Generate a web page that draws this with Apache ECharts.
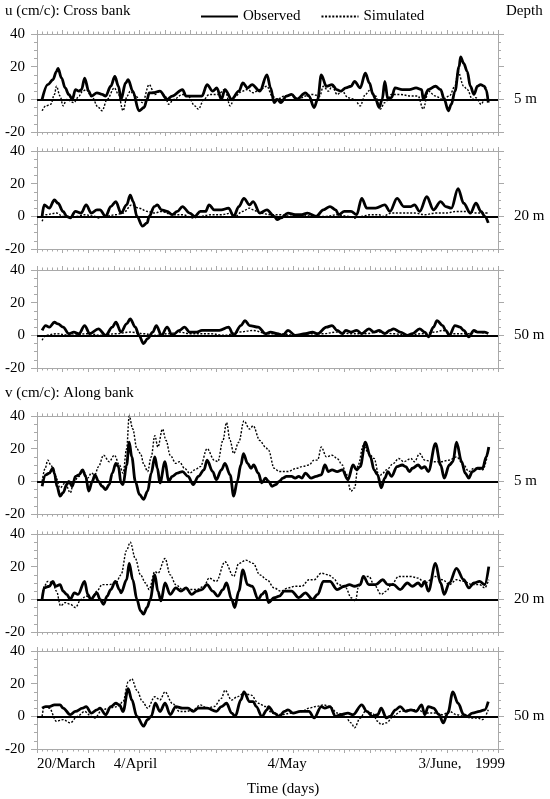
<!DOCTYPE html>
<html>
<head>
<meta charset="utf-8">
<script src="https://cdn.jsdelivr.net/npm/echarts@6/dist/echarts.min.js"></script>
<style>
  html, body { margin: 0; background: #fff; }
  #chart { width: 550px; height: 799px; }
</style>
</head>
<body>
<div id="chart"></div>
<script>
// days counted from 20/March (left edge of the axis)
var uObs5 = [[1.0,0],[2.1,9],[3.1,12],[3.8,17],[4.1,19],[4.8,13],[5.5,7],[6.2,3],[6.9,0],[7.5,6],[8.2,5],[8.7,6],[9.3,13],[10.1,5],[10.6,2],[11.7,4],[12.7,3],[13.4,2],[14.4,8],[15.2,14],[15.9,8],[16.4,0],[17.3,10],[17.8,12],[18.7,5],[19.9,-7],[20.9,-5],[21.5,0],[21.9,4],[22.6,4],[24.0,5],[25.4,0],[26.4,2],[28.4,6],[29.1,2],[30.8,2],[32.2,2],[33.2,9],[34.3,5],[35.1,7],[36.0,0],[36.7,6],[38.0,0],[39.4,5],[40.2,10],[41.1,7],[42.0,9],[43.5,5],[44.9,15],[45.6,7],[46.3,-2],[46.9,0],[47.6,-2],[48.7,2],[49.7,3],[50.7,0],[52.4,4],[53.1,2],[54.1,-5],[54.8,0],[55.5,15],[56.5,8],[57.6,9],[58.5,6],[59.3,5],[60.3,7],[61.3,8],[62.0,11],[63.1,7],[64.1,16],[64.9,10],[65.6,3],[66.1,0],[66.8,-5],[67.4,0],[67.9,11],[68.5,0],[69.2,1],[69.9,7],[71.3,6],[72.7,6],[74.0,7],[75.1,6],[75.4,0],[76.4,6],[77.8,8],[78.8,6],[79.5,0],[80.3,-7],[80.9,-3],[81.6,5],[82.4,20],[82.7,26],[83.3,22],[84.0,17],[84.6,8],[85.3,3],[86.0,8],[86.6,9],[87.3,8],[87.7,6],[88.1,-2]];
var uSim5 = [[1.0,-7],[1.7,-4],[2.7,-3],[3.4,3],[3.8,8],[4.5,2],[5.1,-4],[5.8,0],[7.2,-2],[8.2,2],[8.9,5],[9.6,6],[10.6,2],[12.0,-5],[12.7,-7],[13.7,0],[15.1,7],[15.9,3],[16.8,-7],[17.6,2],[18.2,5],[19.2,2],[20.6,-2],[21.9,9],[23.0,3],[24.0,5],[25.0,2],[25.7,-3],[26.7,0],[28.4,3],[29.5,2],[30.8,-4],[31.5,-6],[32.6,0],[33.6,3],[35.3,3],[36.7,6],[37.7,-4],[38.7,2],[40.1,5],[41.1,6],[42.2,4],[43.5,6],[44.9,8],[45.9,2],[46.9,0],[48.3,2],[49.7,3],[51.1,0],[52.4,2],[53.8,3],[55.2,2],[55.9,8],[56.9,5],[57.6,8],[58.6,3],[59.6,5],[60.7,1],[62.0,0],[63.1,-4],[64.1,3],[65.1,6],[66.1,2],[67.0,-6],[67.9,-2],[69.2,3],[70.9,3],[73.0,2],[74.4,2],[75.4,-6],[76.4,5],[77.8,2],[79.2,0],[80.5,2],[81.6,8],[82.2,17],[83.3,8],[84.0,6],[85.0,0],[85.7,1],[86.7,-3],[87.4,0],[88.1,0]];
var uObs20 = [[1.0,0],[1.4,7],[2.4,5],[3.4,10],[4.1,8],[5.1,3],[5.8,0],[6.5,-1],[7.5,3],[8.6,2],[9.6,7],[10.6,2],[11.7,4],[12.3,4],[13.4,0],[14.4,6],[15.4,9],[16.4,2],[17.5,7],[18.2,13],[18.8,9],[19.5,0],[20.6,-6],[21.5,-4],[21.9,0],[22.9,6],[23.5,7],[24.3,4],[25.4,3],[26.4,1],[27.4,3],[28.4,6],[29.8,2],[30.8,0],[31.9,3],[32.9,3],[33.6,7],[34.6,4],[36.0,4],[37.4,5],[38.4,0],[39.4,6],[40.4,11],[41.5,7],[42.2,9],[43.5,2],[44.9,4],[46.3,0],[46.9,-2],[47.6,-1],[49.0,2],[50.4,1],[51.7,1],[52.8,2],[54.5,0],[55.9,4],[57.2,6],[58.3,4],[58.9,1],[60.0,3],[61.3,3],[62.4,1],[63.4,11],[64.4,5],[66.1,5],[67.9,7],[68.9,3],[70.3,11],[71.6,6],[73.0,6],[73.7,7],[74.7,3],[76.1,12],[77.4,4],[78.8,9],[79.8,6],[80.9,5],[82.2,17],[83.3,8],[84.6,2],[85.7,8],[86.7,3],[87.4,0],[88.1,-4]];
var uSim20 = [[1.0,-3],[1.7,1],[3.8,2],[5.1,0],[6.5,-1],[7.9,0],[9.3,1],[11.3,0],[12.0,-1],[13.4,0],[15.4,1],[16.8,2],[18.5,7],[19.9,5],[21.6,3],[23.0,2],[24.3,3],[26.4,1],[28.4,1],[30.5,-1],[31.9,0],[33.9,1],[36.0,1],[38.0,2],[38.7,0],[40.1,3],[41.5,5],[42.2,4],[43.5,2],[45.6,1],[47.6,1],[49.7,0],[51.7,1],[53.8,0],[56.5,0],[58.6,1],[60.7,0],[62.0,-1],[63.4,0],[65.1,1],[66.8,1],[67.5,0],[69.2,2],[70.9,2],[73.7,2],[75.7,1],[77.8,2],[79.8,2],[81.9,3],[84.0,3],[86.0,2],[87.4,2],[88.1,2]];
var uObs50 = [[1.0,3],[1.7,6],[2.4,5],[3.4,8],[4.1,7],[5.1,5],[6.2,1],[7.2,2],[8.2,1],[9.3,6],[10.3,1],[12.0,4],[13.4,0],[14.7,5],[15.4,8],[16.4,2],[17.5,7],[18.2,10],[19.2,5],[19.9,0],[20.8,-5],[21.6,-2],[22.6,2],[23.3,6],[24.3,0],[25.4,5],[26.4,0],[27.8,3],[28.8,5],[29.8,2],[31.2,2],[32.2,3],[33.9,3],[35.6,3],[37.4,5],[38.4,0],[39.8,6],[40.6,9],[41.5,6],[43.2,5],[44.6,1],[45.6,2],[46.9,1],[48.0,0],[49.0,3],[50.4,0],[52.4,1],[53.8,2],[54.8,1],[56.5,5],[57.6,6],[58.6,3],[59.6,1],[60.3,3],[61.3,2],[62.4,3],[63.4,1],[64.8,4],[65.8,2],[66.8,3],[67.9,1],[68.9,3],[69.6,4],[70.9,2],[72.3,0],[73.3,1],[74.7,4],[75.7,2],[76.4,-1],[77.4,5],[78.1,9],[79.2,6],[79.8,3],[80.5,0],[81.6,6],[82.6,5],[83.3,3],[84.3,-1],[85.3,3],[86.0,2],[87.4,2],[88.1,1]];
var uSim50 = [[1.0,-3],[1.7,0],[3.8,1],[6.5,0],[9.9,1],[12.7,0],[15.4,1],[18.2,2],[20.9,1],[23.0,0],[25.7,1],[27.8,2],[29.8,1],[33.9,1],[36.7,0],[39.4,2],[42.2,3],[44.9,1],[47.6,1],[50.4,0],[53.1,1],[55.9,1],[58.6,2],[61.3,1],[64.1,1],[66.8,2],[69.6,1],[72.3,0],[75.1,1],[77.8,2],[79.2,3],[81.2,1],[84.0,1],[86.0,2],[88.1,1]];
var vObs5 = [[1.0,-3],[1.7,4],[2.4,5],[3.1,8],[3.4,5],[3.9,-3],[4.5,-9],[5.1,-7],[5.8,-2],[6.2,0],[6.9,-3],[7.5,3],[8.2,4],[8.9,7],[9.5,3],[10.1,-6],[10.8,0],[11.3,4],[12.0,0],[12.7,-3],[13.4,-5],[14.1,-2],[14.7,5],[15.4,11],[15.9,9],[16.4,-1],[16.8,-2],[17.5,10],[18.0,24],[18.5,15],[19.2,0],[20.0,-8],[20.8,-11],[21.6,-6],[22.3,5],[23.0,15],[23.5,8],[24.0,-1],[25.0,12],[25.7,0],[26.4,3],[27.4,5],[28.4,6],[29.5,3],[30.5,-2],[31.5,3],[32.6,7],[33.2,13],[34.3,6],[35.0,1],[36.0,7],[36.7,11],[37.7,4],[38.4,-9],[39.1,0],[39.8,10],[40.3,17],[41.1,11],[41.8,8],[42.3,10],[43.2,5],[43.9,-1],[44.6,2],[45.2,0],[45.9,-3],[46.6,-2],[47.3,0],[48.0,2],[48.7,3],[49.7,3],[50.4,2],[51.1,3],[51.7,2],[52.4,5],[53.5,2],[54.5,3],[55.5,4],[56.2,10],[56.9,6],[57.6,7],[58.6,6],[59.6,7],[60.7,1],[61.7,10],[62.4,7],[63.1,9],[64.1,24],[65.1,15],[65.8,7],[66.5,4],[67.2,-4],[67.9,2],[68.5,6],[69.2,3],[70.3,9],[71.3,10],[72.0,9],[72.7,6],[73.3,8],[74.4,10],[75.1,8],[75.7,9],[76.4,6],[77.8,23],[78.8,10],[79.5,2],[80.5,10],[81.2,12],[81.9,24],[82.9,12],[83.6,5],[84.3,2],[85.0,6],[86.0,8],[87.0,8],[87.7,15],[88.2,21]];
var vSim5 = [[1.0,0],[1.6,8],[2.1,13],[2.7,10],[3.6,3],[4.5,-4],[5.5,-1],[6.5,-7],[7.2,0],[8.2,3],[8.9,7],[9.9,2],[10.6,5],[11.3,4],[12.0,9],[13.0,16],[14.1,12],[15.1,16],[16.1,10],[16.8,5],[17.5,20],[18.0,40],[18.7,32],[19.5,20],[20.2,17],[20.9,10],[21.6,6],[22.3,15],[23.0,28],[23.6,21],[24.5,32],[25.2,25],[26.0,16],[27.1,11],[27.8,12],[28.8,8],[29.8,5],[30.8,7],[31.9,9],[33.2,20],[34.6,13],[35.3,12],[36.3,25],[37.0,36],[37.7,25],[38.4,17],[39.4,24],[40.4,37],[41.5,32],[42.2,34],[43.5,25],[44.6,21],[45.2,19],[46.3,8],[47.3,6],[49.0,6],[50.7,8],[51.7,9],[53.1,10],[54.1,13],[54.8,13],[55.5,21],[56.5,15],[57.6,16],[58.6,14],[59.6,10],[60.3,5],[61.3,-6],[62.0,-4],[62.7,10],[63.7,22],[64.8,17],[65.8,14],[66.8,3],[67.5,5],[68.2,7],[69.6,11],[70.6,14],[71.6,12],[73.0,14],[73.7,12],[74.7,17],[75.7,13],[77.1,12],[78.8,12],[80.5,13],[81.9,15],[83.3,10],[84.3,6],[85.3,8],[87.0,7],[88.2,20]];
var vObs20 = [[1.0,0],[1.4,7],[2.4,8],[3.1,11],[3.6,8],[4.5,9],[5.1,5],[5.8,3],[6.5,0],[7.3,4],[8.0,3],[9.3,11],[9.9,3],[10.5,0],[11.7,4],[12.3,0],[13.0,-3],[13.7,2],[14.4,6],[15.3,11],[16.1,6],[16.4,4],[17.5,12],[18.0,22],[18.7,12],[19.5,0],[20.2,-7],[20.8,-9],[21.5,-5],[22.1,0],[23.0,15],[23.6,5],[24.2,-1],[25.0,10],[26.0,3],[27.1,7],[28.1,5],[29.1,7],[30.2,3],[31.2,5],[32.2,6],[33.2,9],[34.3,5],[35.3,2],[36.3,6],[37.0,10],[38.0,0],[38.6,-5],[39.4,5],[40.2,18],[41.1,9],[42.0,8],[43.2,0],[43.9,3],[44.6,5],[45.2,-2],[46.3,1],[47.3,2],[48.3,5],[49.7,5],[51.1,1],[52.4,4],[53.8,0],[54.8,3],[55.9,11],[57.2,11],[58.6,6],[60.0,8],[61.0,9],[62.0,8],[63.1,9],[63.7,14],[64.8,9],[66.1,9],[67.5,12],[68.5,9],[69.6,9],[70.9,6],[72.3,10],[73.3,8],[74.4,10],[75.1,8],[75.7,11],[76.4,5],[77.8,22],[78.8,10],[79.5,3],[80.5,10],[81.9,19],[83.3,12],[84.3,7],[85.3,10],[86.4,11],[87.4,9],[88.2,20]];
var vSim20 = [[1.0,0],[1.4,8],[2.1,11],[3.1,10],[3.8,5],[4.6,-4],[5.5,-2],[6.5,-3],[7.5,-5],[8.6,0],[9.6,2],[10.6,0],[11.7,5],[12.7,9],[14.1,9],[15.4,10],[16.4,15],[17.5,30],[18.2,35],[19.2,25],[20.2,15],[21.2,10],[21.9,6],[23.0,17],[23.6,16],[25.0,25],[26.0,15],[27.1,9],[28.4,6],[29.8,6],[31.2,6],[32.6,8],[33.6,13],[35.0,11],[36.7,23],[38.4,14],[39.4,22],[40.8,24],[42.2,22],[43.5,15],[44.9,12],[46.3,7],[47.6,5],[49.0,7],[50.4,8],[51.7,8],[53.1,12],[54.1,12],[55.5,16],[56.9,15],[57.9,13],[58.9,9],[60.3,7],[61.3,1],[62.2,-1],[62.7,7],[63.7,14],[64.8,14],[65.8,9],[67.2,3],[68.2,5],[69.2,9],[70.6,14],[73.0,14],[74.4,13],[75.7,10],[77.8,14],[79.2,12],[80.5,9],[81.9,12],[83.3,11],[85.0,9],[86.4,9],[87.4,7],[88.2,12]];
var vObs50 = [[1.0,5],[1.7,6],[2.4,6],[3.4,7],[4.5,7],[5.1,5],[6.5,1],[7.5,3],[8.9,5],[9.6,6],[10.6,2],[11.7,4],[12.3,5],[13.4,1],[14.4,6],[15.4,8],[16.1,7],[16.8,3],[17.8,17],[18.5,10],[19.5,0],[20.8,-6],[21.6,-2],[22.3,0],[23.1,8],[24.0,3],[25.0,8],[26.0,1],[27.1,6],[28.4,5],[29.5,5],[30.5,3],[31.5,5],[33.2,5],[35.0,3],[36.0,6],[37.0,8],[38.0,2],[38.7,0],[39.8,10],[40.4,15],[41.5,9],[42.2,9],[42.8,6],[43.9,0],[44.9,4],[45.2,6],[46.3,2],[47.3,0],[48.3,3],[49.0,4],[50.0,2],[51.4,3],[53.1,3],[54.1,-1],[55.5,6],[56.2,5],[57.2,6],[58.3,0],[59.3,1],[60.7,2],[61.7,1],[63.4,7],[64.4,3],[65.5,0],[66.5,1],[67.2,5],[68.2,-1],[68.9,0],[70.0,4],[70.9,6],[72.0,3],[73.0,4],[74.0,3],[75.1,7],[75.7,1],[76.4,6],[77.4,5],[78.5,1],[79.3,-4],[80.2,2],[81.2,15],[82.2,8],[83.3,1],[84.0,0],[85.0,2],[86.4,3],[87.4,4],[88.1,9]];
var vSim50 = [[1.0,0],[1.4,6],[2.4,5],[3.8,-3],[5.1,-2],[6.5,-4],[7.9,0],[9.3,3],[10.6,0],[11.3,-1],[12.7,4],[14.1,5],[15.8,6],[16.8,9],[17.8,21],[18.5,23],[19.5,16],[20.6,9],[21.6,5],[23.0,12],[24.0,10],[25.0,15],[26.4,8],[27.8,3],[29.1,3],[30.5,4],[31.9,7],[33.2,5],[34.6,6],[36.0,11],[36.7,16],[38.0,10],[39.1,12],[40.4,14],[41.8,13],[43.2,8],[44.6,6],[45.9,2],[47.6,1],[49.7,2],[51.7,3],[53.1,5],[54.5,6],[55.9,7],[57.2,6],[58.6,2],[60.0,1],[61.3,-4],[62.0,-7],[63.1,-1],[64.1,3],[65.5,2],[66.5,-3],[67.2,-5],[68.2,-4],[69.6,0],[70.9,3],[72.7,4],[74.4,4],[75.7,2],[77.8,2],[79.2,1],[80.5,3],[81.9,1],[83.3,0],[84.6,-1],[86.0,-1],[87.0,-2],[88.1,4]];

var depthLabels = ["5 m", "20 m", "50 m", "5 m", "20 m", "50 m"];
var xLabelDays = [0, 15, 45, 74.5, 85.5];
var xLabelText = ["20/March", "4/April", "4/May", "3/June,", "1999"];

var panels = [
  [uObs5, uSim5], [uObs20, uSim20], [uObs50, uSim50],
  [vObs5, vSim5], [vObs20, vSim20], [vObs50, vSim50]
];
var panelTops = [34, 151, 270, 416, 534, 651];

var font = "'Liberation Serif', 'DejaVu Serif', serif";
var grey = "#a9a9a9";

var chart = echarts.init(document.getElementById("chart"));

var grids = [], xAxes = [], yAxes = [], series = [];

panels.forEach(function (p, i) {
  var last = i === panels.length - 1;
  grids.push({ left: 37, right: 52, top: panelTops[i], height: 98 });

  // bottom and top time axes
  ["bottom", "top"].forEach(function (pos) {
    var lab = { show: false };
    if (last && pos === "bottom") {
      lab = {
        show: true,
        customValues: xLabelDays,
        align: "left",
        margin: 8,
        color: "#000",
        fontFamily: font,
        fontSize: 15,
        formatter: function (v) {
          var k = xLabelDays.indexOf(v);
          return k < 0 ? "" : xLabelText[k];
        }
      };
    }
    xAxes.push({
      type: "value", gridIndex: i, position: pos,
      min: 0, max: 90, interval: 5,
      axisLine: { show: true, onZero: false, lineStyle: { color: grey, width: 1 } },
      axisTick: { show: true, inside: false, length: 4, lineStyle: { color: grey } },
      minorTick: { show: true, splitNumber: 5, length: 2.5, lineStyle: { color: grey } },
      splitLine: { show: false },
      axisLabel: lab
    });
  });

  // left and right depth axes
  ["left", "right"].forEach(function (pos) {
    var lab;
    if (pos === "left") {
      lab = { show: true, color: "#000", fontFamily: font, fontSize: 15, margin: 12 };
    } else {
      lab = {
        show: true, customValues: [0], color: "#000", fontFamily: font, fontSize: 15, margin: 16,
        formatter: function () { return depthLabels[i]; }
      };
    }
    yAxes.push({
      type: "value", gridIndex: i, position: pos,
      min: -20, max: 40, interval: 20,
      axisLine: { show: true, onZero: false, lineStyle: { color: grey, width: 1 } },
      axisTick: { show: true, inside: false, length: 6, lineStyle: { color: grey } },
      minorTick: { show: true, splitNumber: 4, length: 3, lineStyle: { color: grey } },
      splitLine: { show: false },
      axisLabel: lab
    });
  });

  series.push({
    name: "Observed", type: "line",
    xAxisIndex: 2 * i, yAxisIndex: 2 * i,
    data: p[0], showSymbol: false, symbol: "none",
    smooth: 0.35, smoothMonotone: "x",
    lineStyle: { color: "#000", width: 2.8 },
    itemStyle: { color: "#000" },
    z: 3,
    markLine: {
      silent: true, symbol: ["none", "none"], label: { show: false },
      lineStyle: { color: "#000", width: 2, type: "solid" },
      data: [{ yAxis: 0 }]
    }
  });
  series.push({
    name: "Simulated", type: "line",
    xAxisIndex: 2 * i, yAxisIndex: 2 * i,
    data: p[1], showSymbol: false, symbol: "none",
    smooth: 0.35, smoothMonotone: "x",
    lineStyle: { color: "#000", width: 1.4, type: [2, 1.6] },
    itemStyle: { color: "#000" },
    z: 2
  });
});

var option = {
  animation: false,
  backgroundColor: "#fff",
  textStyle: { fontFamily: font },
  legend: {
    top: 4, left: 195,
    itemWidth: 37, itemHeight: 12, itemGap: 20,
    itemStyle: { opacity: 0 },
    textStyle: { color: "#000", fontFamily: font, fontSize: 15 },
    data: ["Observed", "Simulated"]
  },
  graphic: [
    { type: "text", left: 5, top: 4, style: { text: "u (cm/c): Cross bank", fill: "#000", font: "15px " + font } },
    { type: "text", left: 506, top: 4, style: { text: "Depth", fill: "#000", font: "15px " + font } },
    { type: "text", left: 5, top: 386, style: { text: "v (cm/c): Along bank", fill: "#000", font: "15px " + font } },
    { type: "text", left: 247, top: 782, style: { text: "Time (days)", fill: "#000", font: "15px " + font } }
  ],
  grid: grids,
  xAxis: xAxes,
  yAxis: yAxes,
  series: series
};

chart.setOption(option);
window.onresize = chart.resize;
</script>
</body>
</html>
